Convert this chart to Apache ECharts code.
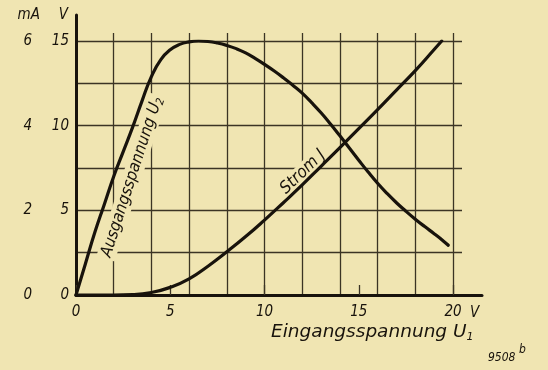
<!DOCTYPE html>
<html>
<head>
<meta charset="utf-8">
<script src="https://cdn.jsdelivr.net/npm/echarts@6/dist/echarts.min.js"></script>
<style>
  html, body { margin: 0; padding: 0; background: #f0e5b2; }
  #chart { width: 548px; height: 370px; }
</style>
</head>
<body>
<div id="chart"></div>
<script>
// Output voltage U2 (V) against input voltage U1 (V)
const u1ForU2 = [0, 0.5, 1, 1.5, 2, 2.5, 3, 3.5, 4, 4.5, 5, 5.5, 6, 6.5, 7, 7.5, 8, 8.5, 9, 9.5, 10,
  10.5, 11, 11.5, 12, 12.5, 13, 13.5, 14, 14.5, 15, 15.5, 16, 16.5, 17, 17.5, 18, 18.5, 19, 19.5, 19.75];
const u2Volts = [0, 1.85, 3.7, 5.35, 7.0, 8.45, 9.9, 11.45, 12.9, 13.9, 14.48, 14.8, 14.95, 15.0, 14.97, 14.88, 14.74, 14.55, 14.3, 13.98, 13.62,
  13.24, 12.83, 12.39, 11.92, 11.36, 10.76, 10.1, 9.4, 8.68, 7.96, 7.26, 6.6, 6.0, 5.45, 4.95, 4.48, 4.04, 3.62, 3.18, 2.94];

// Current J (mA) against input voltage U1 (V)
const u1ForJ = [0, 1, 2, 3, 4, 5, 6, 7, 8, 9, 10, 11, 12, 13, 14, 15, 16, 17, 18, 19, 19.4];
const currentMA = [0, 0, 0, 0.01, 0.06, 0.18, 0.38, 0.68, 1.02, 1.38, 1.77, 2.18, 2.6, 3.04, 3.48, 3.93, 4.38, 4.84, 5.3, 5.8, 6.0];

// Tick labels
const u1TickLabels = [0, 5, 10, 15, 20];
const voltTickLabels = [0, 5, 10, 15];
const mATickLabels = [0, 2, 4, 6];

const X_MAX = 20, V_MAX = 15, MA_MAX = 6;

// Layout in pixels
const W = 548, H = 370;
const PLOT = { x0: 76, x1: 453, y0: 295, y1: 41 };
const RULE = { x1: 462, y1: 33 };   // ruled lines run a little past the plot
const FRAME = { x1: 482, y1: 15 };  // the two thick axes run further still

const PAPER = '#f0e5b2';
const INK = '#18130c';
const RULE_INK = '#3b3424';
const FONT = '"DejaVu Sans Condensed", "DejaVu Sans", sans-serif';
const WIDE_FONT = '"DejaVu Sans", sans-serif';

const ruleXMax = X_MAX * (RULE.x1 - PLOT.x0) / (PLOT.x1 - PLOT.x0);
const ruleYMax = V_MAX * (PLOT.y0 - RULE.y1) / (PLOT.y0 - PLOT.y1);

const chart = echarts.init(document.getElementById('chart'), null, { renderer: 'canvas' });

const labelStyle = { color: INK, fontFamily: FONT, fontStyle: 'italic', fontSize: 15 };
const hidden = { show: false };

const option = {
  backgroundColor: PAPER,
  animation: false,
  textStyle: { fontFamily: FONT, fontStyle: 'italic', color: INK },
  grid: [
    // thick axes
    { left: PLOT.x0, right: W - FRAME.x1, top: FRAME.y1, bottom: H - PLOT.y0 },
    // ruled lines
    { left: PLOT.x0, right: W - RULE.x1, top: RULE.y1, bottom: H - PLOT.y0 },
    // data
    { left: PLOT.x0, right: W - PLOT.x1, top: PLOT.y1, bottom: H - PLOT.y0 }
  ],
  xAxis: [
    {
      gridIndex: 0, type: 'value', min: 0, max: 1,
      axisLine: { show: true, lineStyle: { color: INK, width: 3 } },
      axisTick: hidden, axisLabel: hidden, splitLine: hidden
    },
    {
      gridIndex: 1, type: 'value', min: 0, max: ruleXMax, interval: 2,
      axisLine: hidden, axisTick: hidden, axisLabel: hidden,
      splitLine: { show: true, showMinLine: false, showMaxLine: false, lineStyle: { color: RULE_INK, width: 1.3 } }
    },
    {
      gridIndex: 2, type: 'value', min: 0, max: X_MAX, interval: 5,
      axisLine: hidden,
      axisTick: { show: true, inside: true, length: 10, lineStyle: { color: RULE_INK, width: 1.3 } },
      axisLabel: {
        ...labelStyle, margin: 10,
        formatter: v => (u1TickLabels.includes(v) ? String(v) : '')
      },
      splitLine: hidden,
      name: 'V', nameLocation: 'end', nameGap: 17,
      nameTextStyle: { ...labelStyle, align: 'left', verticalAlign: 'top', padding: [11, 0, 0, 0] }
    }
  ],
  yAxis: [
    {
      gridIndex: 0, type: 'value', min: 0, max: 1,
      axisLine: { show: true, lineStyle: { color: INK, width: 3 } },
      axisTick: hidden, axisLabel: hidden, splitLine: hidden
    },
    {
      gridIndex: 1, type: 'value', min: 0, max: ruleYMax, interval: 2.5,
      axisLine: hidden, axisTick: hidden, axisLabel: hidden,
      splitLine: { show: true, showMinLine: false, showMaxLine: false, lineStyle: { color: RULE_INK, width: 1.3 } }
    },
    {
      gridIndex: 2, type: 'value', min: 0, max: V_MAX, interval: 5, position: 'left',
      axisLine: hidden, axisTick: hidden, splitLine: hidden,
      axisLabel: {
        ...labelStyle, margin: 7,
        formatter: v => (voltTickLabels.includes(v) ? String(v) : '')
      },
      name: 'V', nameLocation: 'end', nameGap: 18,
      nameTextStyle: { ...labelStyle, align: 'right', padding: [0, 8, 0, 0] }
    },
    {
      gridIndex: 2, type: 'value', min: 0, max: MA_MAX, interval: 2, position: 'left', offset: 36,
      axisLine: hidden, axisTick: hidden, splitLine: hidden,
      axisLabel: {
        ...labelStyle, margin: 8,
        formatter: v => (mATickLabels.includes(v) ? String(v) : '')
      },
      name: 'mA', nameLocation: 'end', nameGap: 18,
      nameTextStyle: { ...labelStyle, align: 'right', padding: [0, 0, 0, 0] }
    }
  ],
  series: [
    {
      name: 'Ausgangsspannung U2', type: 'line', xAxisIndex: 2, yAxisIndex: 2,
      data: u1ForU2.map((x, i) => [x, u2Volts[i]]),
      showSymbol: false, smooth: 0.5,
      lineStyle: { color: INK, width: 3.2, cap: 'round' }, z: 5
    },
    {
      name: 'Strom J', type: 'line', xAxisIndex: 2, yAxisIndex: 3,
      data: u1ForJ.map((x, i) => [x, currentMA[i]]),
      showSymbol: false, smooth: 0.5,
      lineStyle: { color: INK, width: 3.2, cap: 'round' }, z: 5
    }
  ],
  graphic: [
    {
      type: 'text', x: 132, y: 177, rotation: 72 * Math.PI / 180, z: 3,
      style: {
        text: '{t|Ausgangsspannung U}{s|2}',
        align: 'center', verticalAlign: 'middle',
        backgroundColor: PAPER, padding: [0, 2],
        rich: {
          t: { fontFamily: FONT, fontStyle: 'italic', fontSize: 16.5, fill: INK },
          s: { fontFamily: FONT, fontStyle: 'italic', fontSize: 11, fill: INK, padding: [8, 0, 0, 0] }
        }
      }
    },
    {
      type: 'text', x: 303, y: 172, rotation: 44 * Math.PI / 180, z: 3,
      style: {
        text: 'Strom J',
        align: 'center', verticalAlign: 'middle',
        backgroundColor: PAPER, padding: [0, 2],
        fontFamily: FONT, fontStyle: 'italic', fontSize: 17, fill: INK
      }
    },
    {
      type: 'text', left: 271, top: 323, z: 3,
      style: {
        text: '{t|Eingangsspannung U}{s|1}',
        rich: {
          t: { fontFamily: WIDE_FONT, fontStyle: 'italic', fontSize: 18.5, fill: INK },
          s: { fontFamily: WIDE_FONT, fontStyle: 'italic', fontSize: 11, fill: INK, padding: [10, 0, 0, 0] }
        }
      }
    },
    {
      type: 'text', left: 488, top: 344, z: 3,
      style: {
        text: '{n|9508}{b| b}',
        rich: {
          n: { fontFamily: FONT, fontStyle: 'italic', fontSize: 12, fill: INK, padding: [9, 0, 0, 0] },
          b: { fontFamily: FONT, fontStyle: 'italic', fontSize: 12, fill: INK, padding: [0, 0, 6, 0] }
        }
      }
    }
  ]
};

chart.setOption(option);
</script>
</body>
</html>
